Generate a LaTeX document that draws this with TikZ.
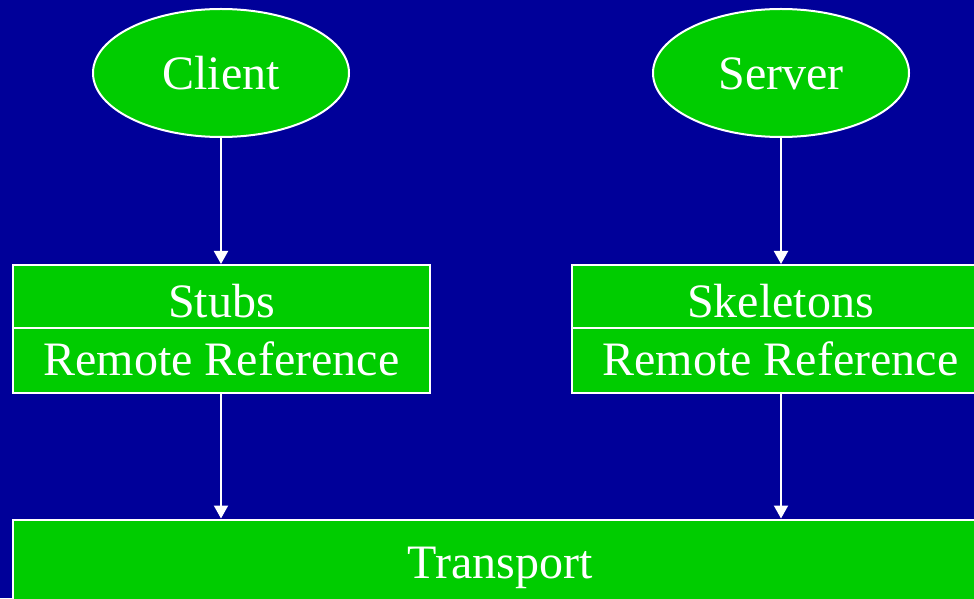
\documentclass[tikz,border=0pt]{standalone}
\usepackage{fontspec}
\setmainfont{Liberation Serif}
\usetikzlibrary{shapes.geometric,arrows.meta}
\definecolor{bgblue}{RGB}{0,0,153}
\definecolor{boxgreen}{RGB}{0,204,0}
\begin{document}
\begin{tikzpicture}[x=1pt,y=1pt,
  txt/.style={text=white, font=\fontsize{48}{56}\selectfont, text height=33pt, text depth=0pt},
  oval/.style={ellipse, draw=white, line width=2pt, fill=boxgreen, txt,
    minimum width=256pt, minimum height=128pt, inner sep=0pt},
  part/.style={rectangle, draw=white, line width=2pt, fill=boxgreen, txt,
    minimum width=417pt, inner sep=0pt},
  conn/.style={draw=white, line width=2pt, -{Triangle[width=14pt,length=13pt]}}]
\useasboundingbox (0,0) rectangle (974,598);
\clip (0,0) rectangle (974,598);
\fill[bgblue] (0,0) rectangle (974,598);
\node[oval] (client) at (221,525) {Client};
\node[oval] (server) at (781,525) {Server};
\node[part, minimum height=63pt, text height=41pt] (stubs) at (221.5,301.5) {Stubs};
\node[part, minimum height=65pt, text height=29pt] (crr) at (221.5,237.5) {Remote Reference};
\node[part, minimum height=63pt, text height=41pt] (skel) at (780.5,301.5) {Skeletons};
\node[part, minimum height=65pt, text height=29pt] (srr) at (780.5,237.5) {Remote Reference};
\node[part, minimum width=974pt, minimum height=86pt, text height=32pt] (transport) at (500,35.5) {Transport};
\draw[conn] (client.south) -- (client.south |- stubs.north);
\draw[conn] (server.south) -- (server.south |- skel.north);
\draw[conn] (client.south |- crr.south) -- (client.south |- transport.north);
\draw[conn] (server.south |- srr.south) -- (server.south |- transport.north);
\end{tikzpicture}
\end{document}
